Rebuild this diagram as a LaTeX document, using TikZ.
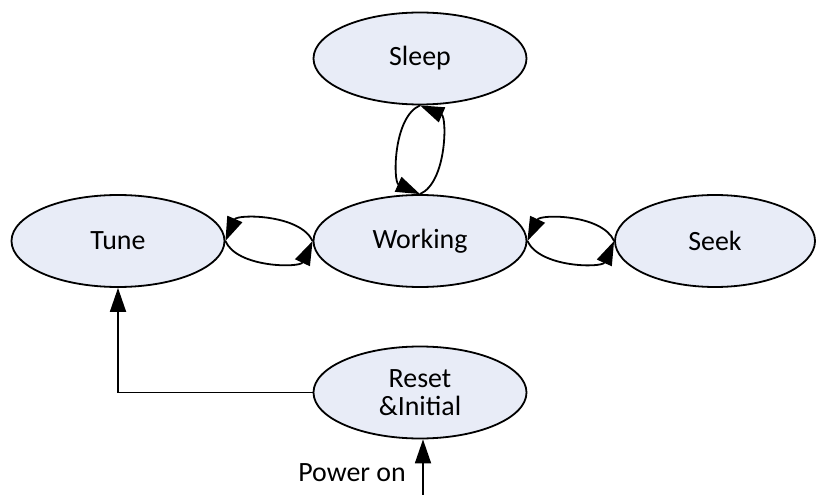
\documentclass[tikz,border=0pt]{standalone}
\usepackage{fontspec}
\setmainfont{Carlito}
\usetikzlibrary{shapes.geometric,arrows.meta}
\definecolor{statefill}{RGB}{232,236,247}
\begin{document}
\begin{tikzpicture}[x=1bp,y=-1bp,
  state/.style={ellipse,draw=black,line width=1.8bp,fill=statefill,
    minimum width=213bp,minimum height=92bp,inner sep=0pt,
    font=\fontsize{28}{31}\selectfont,align=center},
  conn/.style={line width=1.8bp,-{Triangle[length=24bp,width=16bp]}},
  lbl/.style={font=\fontsize{28}{31}\selectfont,inner sep=0pt}]
\useasboundingbox (0,0) rectangle (819,495);
\node[state] (S) at (420,58.5) {Sleep};
\node[state] (W) at (420,241) {Working};
\node[state] (T) at (118,241) {Tune};
\node[state,minimum width=200bp] (K) at (715,241) {Seek};
\node[state] (R) at (420,392.5) {Reset\\[-3pt]\&Initial};
\coordinate (pw) at (423,497);
\node[lbl,anchor=east] (P) at (406,473) {Power on};
% Sleep <-> Working
\draw[conn] (S.south) .. controls (393,117) and (393,182) .. (W.north);
\draw[conn] (W.north) .. controls (447,182) and (447,117) .. (S.south);
% Tune <-> Working
\draw[conn] (W.west) .. controls (300,214) and (237,214) .. (T.east);
\draw[conn] (T.east) .. controls (237,268) and (300,268) .. (W.west);
% Working <-> Seek
\draw[conn] (K.west) .. controls (602,214) and (540,214) .. (W.east);
\draw[conn] (W.east) .. controls (540,268) and (602,268) .. (K.west);
% Reset -> Tune
\draw[conn] (R.west) -| (T.south);
% Power on -> Reset
\draw[conn] (pw) -- (pw |- R.south);
\end{tikzpicture}
\end{document}
